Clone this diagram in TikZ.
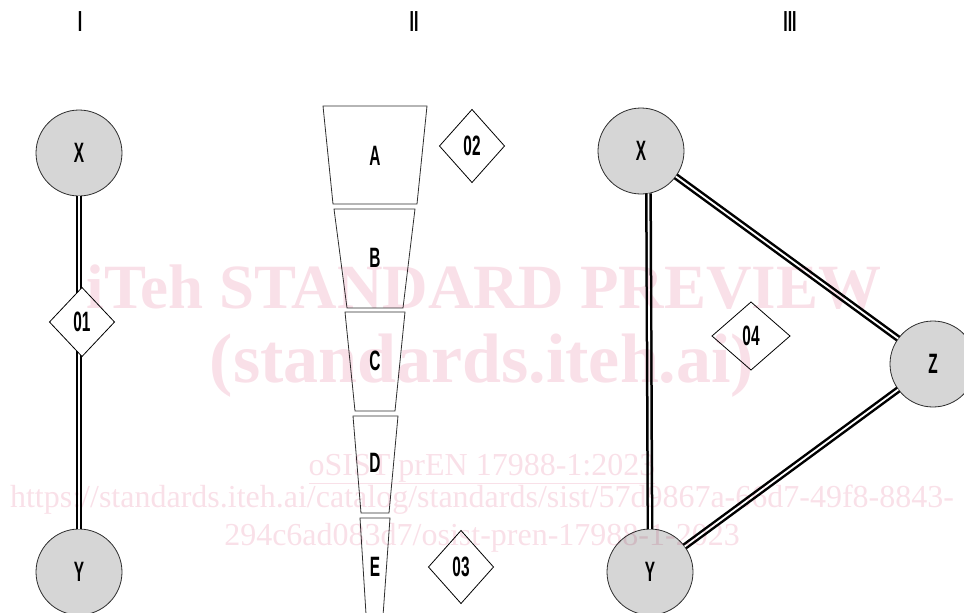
\documentclass[tikz,border=0pt]{standalone}
\usepackage{fontspec}
\setmainfont{Liberation Serif}
\newfontfamily\labelfont{Liberation Sans}
\usetikzlibrary{shapes.geometric}

\definecolor{nodegray}{HTML}{D6D6D6}
\definecolor{edgegray}{HTML}{2E2E2E}
\definecolor{markpink}{RGB}{249,224,232}

% condensed bold label text
\newcommand{\lbl}[1]{\scalebox{0.55}[1]{\labelfont\bfseries #1}}

\begin{document}
\begin{tikzpicture}[x=1pt,y=-1pt,
  every node/.style={inner sep=0pt, outer sep=0pt},
  ent/.style={circle, minimum size=86pt, fill=nodegray, draw=edgegray, line width=0.8pt,
              font=\fontsize{28}{28}\selectfont},
  rel/.style={diamond, fill=white, draw=black, line width=0.8pt,
              font=\fontsize{28}{28}\selectfont},
  link/.style={draw=black, double=white, line width=2.5pt, double distance=1.8pt},
  seg/.style={draw=edgegray, line width=0.8pt, fill=white},
  seglabel/.style={font=\fontsize{28}{28}\selectfont},
  numeral/.style={font=\fontsize{29}{29}\selectfont},
  wmtext/.style={text=markpink, anchor=base}
]
\useasboundingbox (0,0) rectangle (964,613);
\clip (0,0) rectangle (964,613);

% column headings
\node[numeral] (h1) at (80,22) {\lbl{I}};
\node[numeral] (h2) at (414,22) {\lbl{II}};
\node[numeral] (h3) at (790,22) {\lbl{III}};

% ---- I: two entities joined through one relation
\node[ent] (X1) at (79,153) {\lbl{X}};
\node[ent] (Y1) at (79,572) {\lbl{Y}};
\draw[link] (X1) -- (Y1);
\node[rel, minimum width=65pt, minimum height=69pt] (R1) at (82,322) {\lbl{01}};

% ---- II: tapering stack of segments
\draw[seg] (323,106) -- (427,106) -- (417,204) -- (333,204) -- cycle;
\draw[seg] (334,209) -- (415,209) -- (403,308) -- (347,308) -- cycle;
\draw[seg] (345,312) -- (405,312) -- (395,411) -- (355,411) -- cycle;
\draw[seg] (353,416) -- (398,416) -- (389,513) -- (361,513) -- cycle;
\draw[seg] (360,518) -- (390,518) -- (382,630) -- (367,630) -- cycle;
\node[seglabel] (sA) at (375,156) {\lbl{A}};
\node[seglabel] (sB) at (375,258) {\lbl{B}};
\node[seglabel] (sC) at (375,361) {\lbl{C}};
\node[seglabel] (sD) at (375,463) {\lbl{D}};
\node[seglabel] (sE) at (375,567) {\lbl{E}};
\node[rel, minimum width=65pt, minimum height=73pt] (R2) at (472,146) {\lbl{02}};
\node[rel, minimum width=65pt, minimum height=73pt] (R3) at (461,567) {\lbl{03}};

% ---- III: three entities in a triangle
\node[ent] (X3) at (641,151) {\lbl{X}};
\node[ent] (Y3) at (650,572) {\lbl{Y}};
\node[ent] (Z3) at (933,364) {\lbl{Z}};
\draw[link] (X3.-80) -- (Y3.north);
\draw[link] (X3) -- (Z3);
\draw[link] (Z3) -- (Y3);
\node[rel, minimum width=78pt, minimum height=68pt] (R4) at (751,336) {\lbl{04}};

% overprinted watermark text
\begin{scope}[blend mode=multiply]
\node[wmtext, font=\bfseries\fontsize{63}{63}\selectfont] (wmA) at (484,308) {iTeh STANDARD PREVIEW};
\node[wmtext, font=\bfseries\fontsize{70}{70}\selectfont] (wmB) at (482,382) {(standards.iteh.ai)};
\node[wmtext, font=\fontsize{32}{32}\selectfont] (wmC) at (482,475) {\underline{oSIST prEN 17988-1:2023}};
\node[wmtext, font=\fontsize{32}{32}\selectfont] (wmD) at (482,507) {https://standards.iteh.ai/catalog/standards/sist/57d9867a-66d7-49f8-8843-};
\node[wmtext, font=\fontsize{32}{32}\selectfont] (wmE) at (482,545) {294c6ad083d7/osist-pren-17988-1-2023};
\end{scope}
\end{tikzpicture}
\end{document}
